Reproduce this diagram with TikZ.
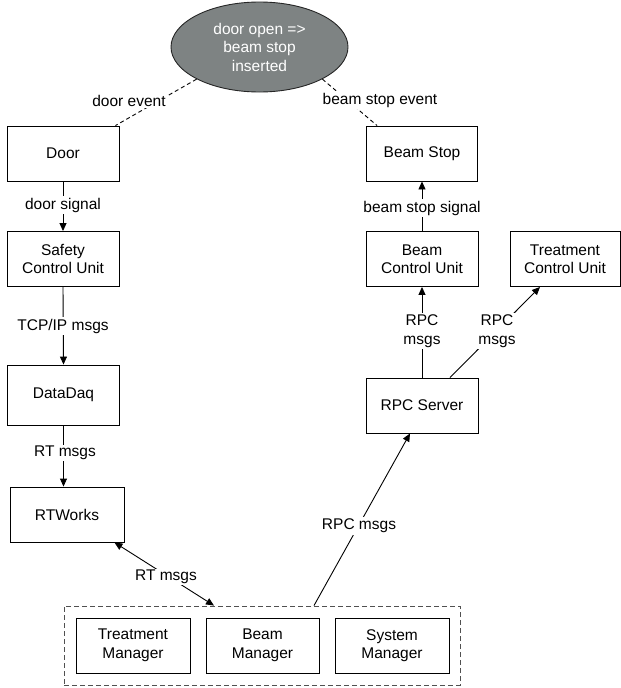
\documentclass[tikz,border=0pt]{standalone}
\usepackage{fontspec}
\setmainfont{Liberation Sans}
\usetikzlibrary{arrows.meta,shapes.geometric}
\definecolor{ellgray}{RGB}{126,131,131}
\definecolor{dashgray}{RGB}{80,80,80}
\begin{document}
\begin{tikzpicture}[x=1pt,y=-1pt,
  font=\fontsize{15.5}{18.5}\selectfont,
  box/.style={draw,line width=0.9pt,minimum width=112pt,minimum height=55pt,align=center,inner sep=0pt},
  lbl/.style={fill=white,inner sep=1.5pt,align=center},
  conn/.style={line width=0.9pt},
  arr/.style={conn,-{Triangle[length=8pt,width=7pt]}},
  darr/.style={conn,{Triangle[length=8pt,width=7pt]}-{Triangle[length=8pt,width=7pt]}},
  evt/.style={line width=0.9pt,dash pattern=on 4pt off 3pt}]
\useasboundingbox (0,0) rectangle (621,688);

% nodes
\node[ellipse,draw=black!85,line width=0.9pt,fill=ellgray,text=white,minimum width=177pt,minimum height=90pt,inner sep=0pt,align=center] (goal) at (259.5,47) {door open =>\\beam stop\\inserted};
\node[box] (door) at (63,153.5) {Door};
\node[box,minimum width=111pt] (bstop) at (422,153.5) {Beam Stop};
\node[box] (scu) at (63,259) {Safety\\Control Unit};
\node[box] (bcu) at (422,259) {Beam\\Control Unit};
\node[box,minimum width=110pt] (tcu) at (565,259) {Treatment\\Control Unit};
\node[box,minimum height=60pt] (daq) at (63.5,395) {DataDaq};
\node[box,minimum width=114pt] (rtw) at (67,514.5) {RTWorks};
\node[box] (rpc) at (422,405.5) {RPC Server};
\node[draw=dashgray,line width=0.9pt,dash pattern=on 5pt off 3pt,minimum width=396pt,minimum height=79pt,inner sep=0pt] (grp) at (262,645.5) {};
\node[box,minimum width=114pt] (tm) at (133,645.5) {Treatment\\Manager};
\node[box,minimum width=113pt] (bm) at (262.5,645.5) {Beam\\Manager};
\node[box,minimum width=114pt] (sm) at (392,645.5) {System\\Manager};

% connectors
\draw[evt] (goal.south west) -- ([xshift=-4pt]door.north east);
\draw[evt] (goal.south east) -- ([xshift=11pt]bstop.north west);
\draw[arr] (door.south) -- (scu.north);
\draw[arr] (scu.south) -- (daq.north);
\draw[arr] (daq.south) -- (daq.south |- rtw.north);
\draw[arr] (bcu.north) -- (bstop.south);
\draw[arr] (rpc.north) -- (bcu.south);
\draw[arr] ([xshift=28pt]rpc.north) -- ([xshift=-25pt]tcu.south);
\draw[arr] ([xshift=52pt]grp.north) -- ([xshift=-12pt]rpc.south);
\draw[darr] ([xshift=-10pt]rtw.south east) -- ([xshift=-48pt]grp.north);

% labels
\node[lbl] (l1) at (129,101) {door event};
\node[lbl] (l2) at (380,100) {beam stop event};
\node[lbl] (l3) at (63,205) {door signal};
\node[lbl] (l4) at (63,326) {TCP/IP msgs};
\node[lbl] (l5) at (65,453) {RT msgs};
\node[lbl] (l6) at (422,208) {beam stop signal};
\node[lbl] (l7) at (422,331) {RPC\\msgs};
\node[lbl] (l8) at (497,331) {RPC\\msgs};
\node[lbl] (l9) at (359,526) {RPC msgs};
\node[lbl] (l10) at (166,577) {RT msgs};
\end{tikzpicture}
\end{document}
